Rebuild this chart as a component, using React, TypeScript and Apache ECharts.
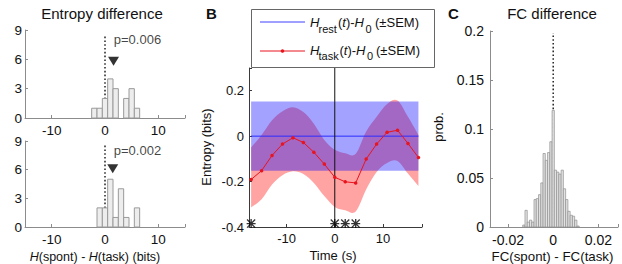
import React, { useEffect, useRef } from 'react';
import * as echarts from 'echarts';

// ---------- Panel A: entropy difference histograms ----------
const entropyBinCenters = [-2, -1, 0, 1, 2, 3, 4, 5, 6];
const entropyCountsTop = [1, 1, 2, 4, 3, 0, 2, 3, 1];
const entropyCountsBottom = [0, 2, 2, 5, 1, 4, 1, 0, 2];
const entropyBinWidth = 1;
const entropyMarkerTop = [1.6, 5.8];
const entropyMarkerBottom = [1.45, 6.1];
const entropyZeroTopEnd = [8.5, 8.6];
const pTexts = ['p=0.006', 'p=0.002'];
const pAnchors = [[1.55, 8.0], [1.55, 8.0]];
const entropyXTicks = [-10, 0, 10];
const entropyYTicks = [0, 3, 6, 9];

// ---------- Panel B: entropy time course ----------
const timeSec = [-17.36, -15.19, -13.02, -10.85, -8.68, -6.51, -4.34, -2.17, 0, 2.17, 4.34, 6.51, 8.68, 10.85, 13.02, 15.19, 17.36];
const taskMean = [-0.191, -0.152, -0.085, -0.035, -0.007, -0.028, -0.071, -0.123, -0.181, -0.201, -0.206, -0.101, -0.035, 0.017, 0.026, -0.032, -0.094];
const taskUpper = [-0.05, 0.005, 0.07, 0.11, 0.127, 0.106, 0.055, -0.017, -0.06, -0.075, -0.078, 0.02, 0.085, 0.142, 0.157, 0.085, 0.005];
const taskLower = [-0.314, -0.278, -0.213, -0.172, -0.155, -0.167, -0.206, -0.264, -0.312, -0.326, -0.332, -0.235, -0.158, -0.118, -0.109, -0.165, -0.22];
const restTime = [-17.36, 17.36];
const restMean = [0, 0];
const restUpper = [0.153, 0.153];
const restLower = [-0.152, -0.152];
const sigTimes = [-17.36, 0, 2.17, 4.34];
const sigLevel = -0.385;
const timeTicks = [-10, 0, 10];
const entropyBTicks = [-0.4, -0.2, 0, 0.2];

// ---------- Panel C: FC difference histogram ----------
const fcBinCenters = [-0.013, -0.012, -0.011, -0.01, -0.009, -0.008, -0.007, -0.006, -0.005, -0.004, -0.003, -0.002, -0.001, 0, 0.001, 0.002, 0.003, 0.004, 0.005, 0.006, 0.007, 0.008, 0.009, 0.01, 0.011];
const fcProb = [0.002, 0.017, 0.005, 0.007, 0.005, 0.028, 0.029, 0.033, 0.045, 0.075, 0.068, 0.076, 0.087, 0.119, 0.058, 0.056, 0.054, 0.058, 0.039, 0.028, 0.016, 0.012, 0.011, 0.007, 0.001];
const fcBinWidth = 0.001;
const fcZeroTopEnd = 0.198;
const fcXTicks = [-0.02, 0, 0.02];
const fcYTicks = [0, 0.05, 0.1, 0.15, 0.2];

const FONT = '"Liberation Sans", Arial, Helvetica, sans-serif';
const TXT = '#111111';

const asteriskPath =
  'path://M0,8.5H20V11.5H0Z M8.5,0H11.5V20H8.5Z M2.1,0L20,17.9L17.9,20L0,2.1Z M17.9,0L20,2.1L2.1,20L0,17.9Z';

function tickFormatter(ticks: number[]) {
  return (v: number) => {
    const m = ticks.find((t) => Math.abs(t - v) < 1e-9);
    return m === undefined ? '' : String(m);
  };
}

function axis(gridIndex: number, min: number, max: number, ticks: number[], lineColor: string, fontSize: number, margin: number, extra: any = {}) {
  return {
    type: 'value',
    gridIndex,
    min,
    max,
    ...extra,
    axisLine: { show: true, onZero: false, lineStyle: { color: lineColor, width: 1 } },
    axisTick: { show: true, inside: true, length: 3, lineStyle: { color: lineColor, width: 1 } },
    axisLabel: { show: true, fontSize, color: TXT, fontFamily: FONT, margin, formatter: tickFormatter(ticks) },
    splitLine: { show: false },
  };
}

function histRender(width: number, fill: string, stroke: string, lw: number) {
  return (params: any, api: any) => {
    const c = api.value(0);
    const h = api.value(1);
    if (!h) return null;
    const a = api.coord([c - width / 2, 0]);
    const b = api.coord([c + width / 2, h]);
    return {
      type: 'rect',
      shape: { x: a[0], y: b[1], width: b[0] - a[0], height: a[1] - b[1] },
      style: { fill, stroke, lineWidth: lw },
    };
  };
}

function curve(pts: number[][], smooth: boolean, move: boolean) {
  let d = (move ? 'M' : 'L') + pts[0][0] + ',' + pts[0][1];
  for (let i = 0; i < pts.length - 1; i++) {
    const p0 = pts[Math.max(i - 1, 0)];
    const p1 = pts[i];
    const p2 = pts[i + 1];
    const p3 = pts[Math.min(i + 2, pts.length - 1)];
    if (smooth) {
      const c1 = [p1[0] + (p2[0] - p0[0]) / 6, p1[1] + (p2[1] - p0[1]) / 6];
      const c2 = [p2[0] - (p3[0] - p1[0]) / 6, p2[1] - (p3[1] - p1[1]) / 6];
      d += 'C' + c1[0] + ',' + c1[1] + ' ' + c2[0] + ',' + c2[1] + ' ' + p2[0] + ',' + p2[1];
    } else {
      d += 'L' + p2[0] + ',' + p2[1];
    }
  }
  return d;
}

function bandRender(xs: number[], lo: number[], hi: number[], smooth: boolean, fill: string) {
  return (params: any, api: any) => {
    if (params.dataIndex !== 0) return null;
    const up = xs.map((x, i) => api.coord([x, hi[i]]));
    const dn = xs.map((x, i) => api.coord([x, lo[i]])).reverse();
    const d = curve(up, smooth, true) + curve(dn, smooth, false) + 'Z';
    return { type: 'path', shape: { pathData: d }, style: { fill } };
  };
}

function txt(x: number, y: number, text: string, size: number, extra: any = {}, styleExtra: any = {}) {
  return {
    type: 'text',
    x,
    y,
    z: 100,
    ...extra,
    style: {
      text,
      fontSize: size,
      fontFamily: FONT,
      fill: TXT,
      textAlign: 'left',
      textVerticalAlign: 'middle',
      ...styleExtra,
    },
  };
}

function italicRich(size: number) {
  return { i: { fontStyle: 'italic', fontSize: size, fontFamily: FONT, fill: TXT, color: TXT } };
}

function buildOption(): any {
  const grayAxis = '#8c8c8c';
  const darkAxis = '#3a3a3a';

  const grid = [
    { left: 25, top: 30, width: 160, height: 88 },
    { left: 25, top: 141, width: 160, height: 86 },
    { left: 249, top: 68, width: 173, height: 159 },
    { left: 490, top: 31, width: 128, height: 196 },
  ].map((g) => ({ ...g, containLabel: false, outerBoundsMode: 'none' }));

  const xAxis = [
    axis(0, -15, 15, entropyXTicks, grayAxis, 13.5, 5, { splitNumber: 3 }),
    axis(1, -15, 15, entropyXTicks, grayAxis, 13.5, 5, { splitNumber: 3 }),
    axis(2, -17.8, 18.1, timeTicks, darkAxis, 13, 5, { splitNumber: 4 }),
    axis(3, -0.028, 0.0287, fcXTicks, grayAxis, 14, 6, { splitNumber: 3 }),
  ];
  const yAxis = [
    axis(0, 0, 9, entropyYTicks, grayAxis, 13.5, 3, { interval: 3 }),
    axis(1, 0, 9, entropyYTicks, grayAxis, 13.5, 3, { interval: 3 }),
    axis(2, -0.4, 0.3, entropyBTicks, darkAxis, 13, 5, { interval: 0.2 }),
    axis(3, 0, 0.2, fcYTicks, grayAxis, 14, 6, { interval: 0.05 }),
  ];

  const series: any[] = [];

  // Panel A (two histograms)
  const countsList = [entropyCountsTop, entropyCountsBottom];
  const markers = [entropyMarkerTop, entropyMarkerBottom];
  [0, 1].forEach((k) => {
    series.push({
      type: 'line',
      xAxisIndex: k,
      yAxisIndex: k,
      data: [[0, 0], [0, entropyZeroTopEnd[k]]],
      symbol: 'none',
      lineStyle: { color: '#222', width: 1.5, type: [1.6, 2.2] },
      silent: true,
      z: 1,
    });
    series.push({
      type: 'custom',
      xAxisIndex: k,
      yAxisIndex: k,
      data: entropyBinCenters.map((c, i) => [c, countsList[k][i]]),
      renderItem: histRender(entropyBinWidth, '#ededed', '#9a9a9a', 1),
      clip: false,
      silent: true,
      z: 2,
    });
    series.push({
      type: 'scatter',
      xAxisIndex: k,
      yAxisIndex: k,
      data: [markers[k]],
      symbol: 'triangle',
      symbolRotate: 180,
      symbolSize: [11, 9],
      itemStyle: { color: '#000' },
      silent: true,
      z: 3,
    });
    series.push({
      type: 'scatter',
      xAxisIndex: k,
      yAxisIndex: k,
      data: [pAnchors[k]],
      symbolSize: 1,
      itemStyle: { color: 'rgba(0,0,0,0)' },
      label: {
        show: true,
        position: 'right',
        distance: 0,
        formatter: pTexts[k],
        fontSize: 13,
        fontFamily: FONT,
        color: TXT,
      },
      silent: true,
      z: 3,
    });
  });

  // Panel B
  series.push({
    type: 'custom',
    xAxisIndex: 2,
    yAxisIndex: 2,
    data: timeSec.map((t, i) => [t, taskLower[i], taskUpper[i]]),
    encode: { x: 0, y: [1, 2] },
    renderItem: bandRender(timeSec, taskLower, taskUpper, true, 'rgba(255,0,0,0.36)'),
    silent: true,
    z: 1,
  });
  series.push({
    type: 'custom',
    xAxisIndex: 2,
    yAxisIndex: 2,
    data: restTime.map((t, i) => [t, restLower[i], restUpper[i]]),
    encode: { x: 0, y: [1, 2] },
    renderItem: bandRender(restTime, restLower, restUpper, false, 'rgba(0,0,255,0.36)'),
    silent: true,
    z: 1,
  });
  series.push({
    type: 'line',
    xAxisIndex: 2,
    yAxisIndex: 2,
    data: restTime.map((t, i) => [t, restMean[i]]),
    symbol: 'none',
    lineStyle: { color: '#2a2aff', width: 1 },
    silent: true,
    z: 2,
  });
  series.push({
    type: 'line',
    xAxisIndex: 2,
    yAxisIndex: 2,
    data: [[0, -0.4], [0, 0.3]],
    symbol: 'none',
    lineStyle: { color: '#111', width: 1 },
    silent: true,
    z: 2,
  });
  series.push({
    type: 'line',
    xAxisIndex: 2,
    yAxisIndex: 2,
    data: timeSec.map((t, i) => [t, taskMean[i]]),
    symbol: 'circle',
    symbolSize: 3.5,
    showSymbol: true,
    lineStyle: { color: '#e8141e', width: 1 },
    itemStyle: { color: '#e8141e' },
    silent: true,
    z: 3,
  });
  series.push({
    type: 'scatter',
    xAxisIndex: 2,
    yAxisIndex: 2,
    data: sigTimes.map((t) => [t, sigLevel]),
    symbol: asteriskPath,
    symbolSize: 9,
    itemStyle: { color: '#000' },
    clip: false,
    silent: true,
    z: 4,
  });

  // Panel C
  series.push({
    type: 'line',
    xAxisIndex: 3,
    yAxisIndex: 3,
    data: [[0, 0], [0, fcZeroTopEnd]],
    symbol: 'none',
    lineStyle: { color: '#222', width: 1.5, type: [1.6, 2.2] },
    silent: true,
    z: 1,
  });
  series.push({
    type: 'custom',
    xAxisIndex: 3,
    yAxisIndex: 3,
    data: fcBinCenters.map((c, i) => [c, fcProb[i]]),
    renderItem: histRender(fcBinWidth, '#e2e2e2', '#8f8f8f', 0.7),
    clip: false,
    silent: true,
    z: 2,
  });

  const graphic: any[] = [
    // titles & panel letters
    txt(102, 13, 'Entropy difference', 15, {}, { textAlign: 'center' }),
    txt(206, 13, 'B', 15, {}, { fontWeight: 'bold' }),
    txt(448, 13, 'C', 15, {}, { fontWeight: 'bold' }),
    txt(552, 13, 'FC difference', 15, {}, { textAlign: 'center' }),
    // axis names
    txt(95, 257, '{i|H}(spont) - {i|H}(task) (bits)', 12.5, {}, { textAlign: 'center', rich: italicRich(12.5) }),
    txt(333, 255, 'Time (s)', 13, {}, { textAlign: 'center' }),
    txt(206, 147, 'Entropy (bits)', 13, { rotation: Math.PI / 2 }, { textAlign: 'center' }),
    txt(552.5, 256, 'FC(spont) - FC(task)', 13.3, {}, { textAlign: 'center' }),
    txt(438, 127, 'prob.', 13, { rotation: Math.PI / 2 }, { textAlign: 'center' }),
    // legend box
    {
      type: 'rect',
      z: 99,
      shape: { x: 251.5, y: 9.5, width: 183, height: 58 },
      style: { fill: '#fff', stroke: '#666', lineWidth: 1 },
    },
    { type: 'line', z: 100, shape: { x1: 260, y1: 22, x2: 305, y2: 22 }, style: { stroke: '#4040ff', lineWidth: 1 } },
    { type: 'line', z: 100, shape: { x1: 260, y1: 51, x2: 305, y2: 51 }, style: { stroke: '#e8141e', lineWidth: 1 } },
    { type: 'circle', z: 100, shape: { cx: 282.5, cy: 51, r: 1.8 }, style: { fill: '#e8141e' } },
    txt(310, 22, '{i|H}', 13, {}, { rich: italicRich(13) }),
    txt(318.5, 29, 'rest', 11),
    txt(338, 22, '({i|t})-{i|H}', 13, {}, { rich: italicRich(13) }),
    txt(365.5, 29, '0', 11),
    txt(375, 22, '(±SEM)', 13),
    txt(310, 50, '{i|H}', 13, {}, { rich: italicRich(13) }),
    txt(318.5, 56, 'task', 11),
    txt(339.5, 50, '({i|t})-{i|H}', 13, {}, { rich: italicRich(13) }),
    txt(367, 56, '0', 11),
    txt(376, 50, '(±SEM)', 13),
  ];

  return {
    animation: false,
    backgroundColor: '#ffffff',
    textStyle: { fontFamily: FONT },
    grid,
    xAxis,
    yAxis,
    series,
    graphic: { elements: graphic },
  };
}

export default function App() {
  const ref = useRef<HTMLDivElement>(null);
  useEffect(() => {
    document.body.style.margin = '0';
    const chart = echarts.init(ref.current as HTMLDivElement, null, { renderer: 'svg' });
    chart.setOption(buildOption());
    return () => {
      chart.dispose();
    };
  }, []);
  return <div ref={ref} style={{ width: 622, height: 264 }} />;
}
